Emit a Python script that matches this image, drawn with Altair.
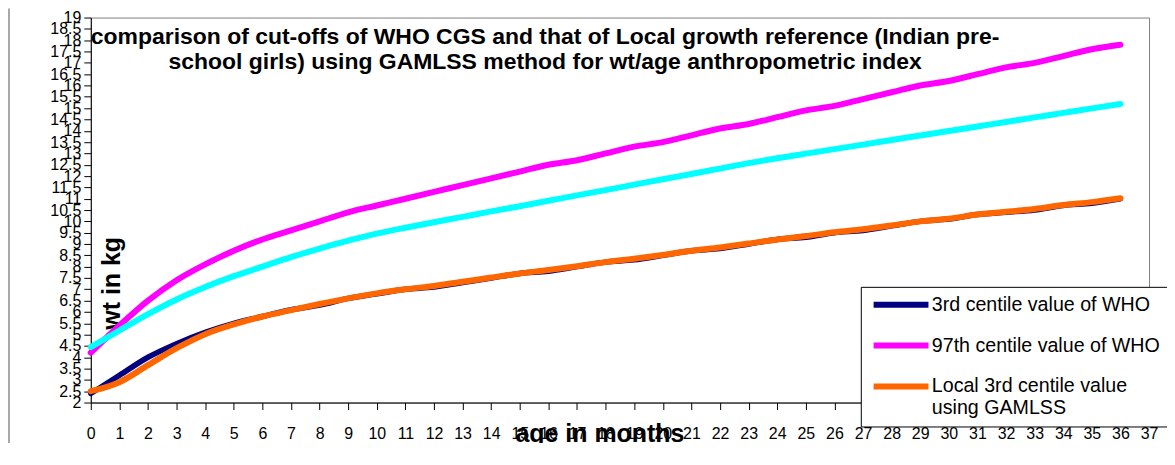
import altair as alt
import pandas as pd

# ---- data ----
ages = list(range(37))

who_p3 = [2.4, 3.2, 4.0, 4.6, 5.1, 5.5, 5.8, 6.1, 6.3, 6.6, 6.8, 7.0, 7.1, 7.3, 7.5,
          7.7, 7.8, 8.0, 8.2, 8.3, 8.5, 8.7, 8.8, 9.0, 9.2, 9.3, 9.5, 9.6, 9.8, 10.0,
          10.1, 10.3, 10.4, 10.5, 10.7, 10.8, 11.0]

who_p97 = [4.2, 5.4, 6.5, 7.4, 8.1, 8.7, 9.2, 9.6, 10.0, 10.4, 10.7, 11.0, 11.3, 11.6,
           11.9, 12.2, 12.5, 12.7, 13.0, 13.3, 13.5, 13.8, 14.1, 14.3, 14.6, 14.9, 15.1,
           15.4, 15.7, 16.0, 16.2, 16.5, 16.8, 17.0, 17.3, 17.6, 17.8]

local_p97 = [4.45, 5.18, 5.9, 6.55, 7.1, 7.58, 8.0, 8.42, 8.8, 9.15, 9.46, 9.72, 9.96,
             10.2, 10.44, 10.67, 10.91, 11.15, 11.38, 11.62, 11.86, 12.09, 12.33, 12.57,
             12.79, 12.99, 13.19, 13.39, 13.59, 13.79, 13.99, 14.19, 14.39, 14.59, 14.79,
             14.99, 15.18]

local_p3 = [2.5, 2.9, 3.65, 4.4, 5.02, 5.45, 5.8, 6.08, 6.35, 6.6, 6.82, 7.0, 7.15,
            7.33, 7.52, 7.7, 7.85, 8.02, 8.2, 8.35, 8.52, 8.7, 8.85, 9.02, 9.2, 9.35,
            9.52, 9.65, 9.82, 10.0, 10.12, 10.3, 10.42, 10.55, 10.72, 10.85, 11.02]

series_names = ["3rd centile value of WHO", "97th centile value of WHO",
                "Local 3rd centile value using GAMLSS"]
cyan_name = "Local 97th centile value using GAMLSS"
series_colors = ["#000080", "#FF00FF", "#FF6600"]
cyan_color = "#00FFFF"

x_ticks = list(range(38))
y_ticks = [2, 2.5, 3, 3.5, 4, 4.5, 5, 5.5, 6, 6.5, 7, 7.5, 8, 8.5, 9, 9.5, 10, 10.5,
           11, 11.5, 12, 12.5, 13, 13.5, 14, 14.5, 15, 15.5, 16, 16.5, 17, 17.5, 18,
           18.5, 19]

title_lines = ["comparison of cut-offs of WHO CGS and that of Local growth reference (Indian pre-",
               "school girls) using GAMLSS method for wt/age anthropometric index"]

# ---- table ----
def frame(name, vals):
    return pd.DataFrame({"age": ages, "wt": vals, "series": name})

df = pd.concat([
    frame(series_names[0], who_p3),
    frame(series_names[1], who_p97),
    frame(cyan_name, local_p97),
    frame(series_names[2], local_p3),
], ignore_index=True)

FONT = "Liberation Sans"

common_axis = dict(domainColor="black", tickColor="black", grid=False,
                   labelFont=FONT, labelFontSize=16, labelColor="black",
                   titleFont=FONT, titleFontWeight="bold", titleFontSize=25,
                   titleColor="black", labelOverlap=False, labelFlush=False,
                   tickSize=7)

x_enc = alt.X("age:Q",
              scale=alt.Scale(domain=[0, 37], nice=False, zero=False),
              axis=alt.Axis(values=x_ticks, format="d", title="age in months",
                            labelPadding=16,
                            titleX=510, titleY=31, titleBaseline="middle",
                            titleAnchor="start", titleAlign="center",
                            **common_axis))
y_enc = alt.Y("wt:Q",
              scale=alt.Scale(domain=[2, 19], nice=False, zero=False),
              axis=alt.Axis(values=y_ticks, format="~g", title="wt in kg",
                            labelPadding=3,
                            titleAngle=270, titleX=21, titleY=266,
                            titleAlign="center", titleBaseline="middle",
                            titleAnchor="start", **common_axis))

# horizontal stroke symbol drawn as a custom path: 11 units * sqrt(100)/2 = 55 px long
legend = alt.Legend(
    title=None, orient="none", legendX=772, legendY=270, direction="vertical",
    symbolType="M-5.5,0H5.5", symbolSize=100, symbolStrokeWidth=6,
    symbolOffset=22.5,
    labelFont=FONT, labelFontSize=19.7, labelColor="black", labelOffset=21,
    labelLimit=500, rowPadding=16, padding=8, strokeColor="black",
    fillColor="white",
    labelExpr="datum.label == 'Local 3rd centile value using GAMLSS' ? "
              "['Local 3rd centile value', 'using GAMLSS'] : datum.label",
)
color_enc = alt.Color("series:N",
                      scale=alt.Scale(domain=series_names, range=series_colors),
                      legend=legend)

base = alt.Chart(df)

def line_layer(name, width):
    return base.transform_filter(alt.datum.series == name).mark_line(
        strokeWidth=width, interpolate="monotone", strokeCap="round",
        strokeJoin="round").encode(x=x_enc, y=y_enc, color=color_enc)

navy = line_layer(series_names[0], 5.5)
magenta = line_layer(series_names[1], 6)
cyan = base.transform_filter(alt.datum.series == cyan_name).mark_line(
    strokeWidth=6, interpolate="monotone", strokeCap="round", color=cyan_color
).encode(x=x_enc, y=y_enc)
orange = line_layer(series_names[2], 6)

frame_line = alt.Chart(pd.DataFrame({"k": [0]})).mark_rule(
    color="#8c8c8c", strokeWidth=1.5, clip=False
).encode(x=alt.value(-82), y=alt.value(-9), y2=alt.value(450))

chart = alt.layer(frame_line, navy, magenta, cyan, orange).properties(
    width=1061, height=386,
    background="white",
    autosize=alt.AutoSizeParams(type="none"),
    padding={"left": 83, "top": 9, "right": 18, "bottom": 40},
    title=alt.TitleParams(text=title_lines, font=FONT, fontSize=23,
                          fontWeight="bold", color="black", anchor="middle",
                          lineHeight=25, offset=-66, dx=-75, frame="group"),
).configure_view(
    stroke="#808080", strokeWidth=1
)

chart.save("out.html", embed_options={"renderer": "svg", "actions": False})
